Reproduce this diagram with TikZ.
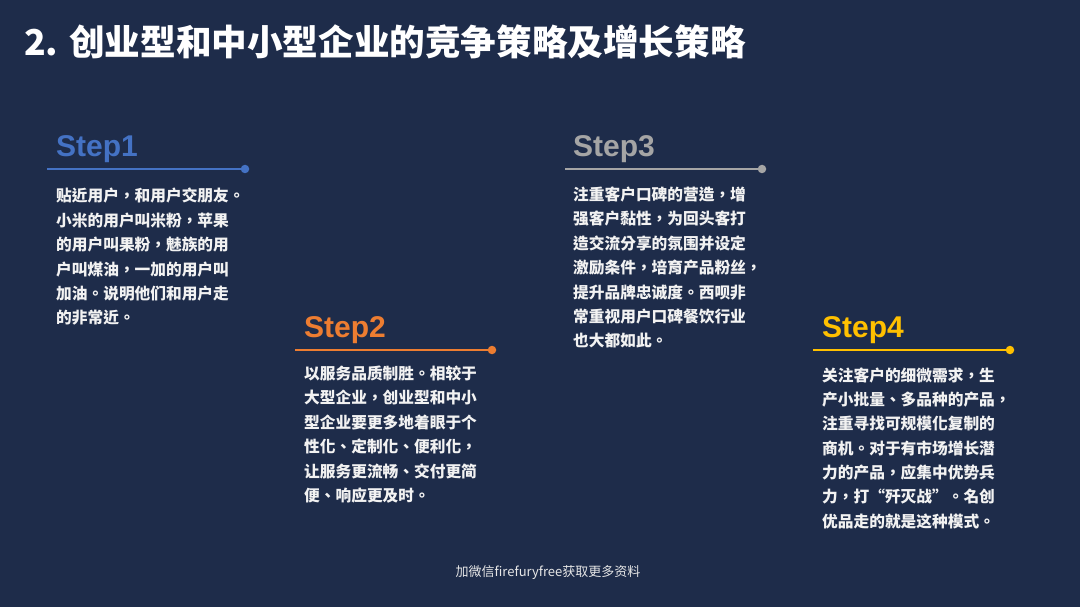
\documentclass[tikz,border=0pt]{standalone}
\usepackage{fontspec}
\setmainfont{Liberation Sans}
\newfontfamily\cjk{Noto Sans CJK SC}
\newfontfamily\cjkbody{Noto Sans CJK TC}
\newfontfamily\lat{Liberation Sans}
\definecolor{bgnavy}{RGB}{30,44,74}
\definecolor{sblue}{RGB}{68,114,196}
\definecolor{sorange}{RGB}{237,125,49}
\definecolor{sgray}{RGB}{165,165,165}
\definecolor{sgold}{RGB}{255,192,0}
\definecolor{bodytxt}{RGB}{242,242,242}
\tikzset{
  steplabel/.style={anchor=base west, inner sep=0pt, font=\lat\bfseries\fontsize{30}{30}\selectfont},
  stepline/.style={line width=2.6pt},
  stepdot/.style={circle, inner sep=0pt, minimum size=8.5pt},
  bodytext/.style={anchor=base west, inner sep=0pt, text=bodytxt},
}
\newcommand{\bodybox}[1]{\parbox[t]{230pt}{\cjkbody\bfseries\fontsize{15.7}{24.4}\selectfont #1}}
\begin{document}
\begin{tikzpicture}[x=1pt,y=-1pt]
\useasboundingbox (0,0) rectangle (1080,607);
\fill[bgnavy] (0,0) rectangle (1080,607);
% title
\node[anchor=base west, inner sep=0pt, text=white, font=\cjk\bfseries\fontsize{35.6}{35.6}\selectfont] (title) at (24,55.5) {2. 创业型和中小型企业的竞争策略及增长策略};
% Step 1
\node[steplabel, text=sblue] (s1) at (56,157) {Step1};
\coordinate (l1a) at (47,169);
\node[stepdot, fill=sblue] (d1) at (245,169) {};
\draw[stepline, sblue] (l1a) -- (d1.center);
\node[bodytext] (t1) at (56,202) {\bodybox{贴近用户，和用户交朋友。\\小米的用户叫米粉，苹果\\的用户叫果粉，魅族的用\\户叫煤油，一加的用户叫\\加油。说明他们和用户走\\的非常近。}};
% Step 2
\node[steplabel, text=sorange] (s2) at (304,337) {Step2};
\coordinate (l2a) at (295,350);
\node[stepdot, fill=sorange] (d2) at (492,350) {};
\draw[stepline, sorange] (l2a) -- (d2.center);
\node[bodytext] (t2) at (304,379.5) {\bodybox{以服务品质制胜。相较于\\大型企业，创业型和中小\\型企业要更多地着眼于个\\性化、定制化、便利化，\\让服务更流畅、交付更简\\便、响应更及时。}};
% Step 3
\node[steplabel, text=sgray] (s3) at (573,157) {Step3};
\coordinate (l3a) at (565,169);
\node[stepdot, fill=sgray] (d3) at (762,169) {};
\draw[stepline, sgray] (l3a) -- (d3.center);
\node[bodytext] (t3) at (573,200.5) {\bodybox{注重客户口碑的营造，增\\强客户黏性，为回头客打\\造交流分享的氛围并设定\\激励条件，培育产品粉丝，\\提升品牌忠诚度。西呗非\\常重视用户口碑餐饮行业\\也大都如此。}};
% Step 4
\node[steplabel, text=sgold] (s4) at (822,337) {Step4};
\coordinate (l4a) at (813,350);
\node[stepdot, fill=sgold] (d4) at (1010,350) {};
\draw[stepline, sgold] (l4a) -- (d4.center);
\node[bodytext] (t4) at (822,381) {\bodybox{关注客户的细微需求，生\\产小批量、多品种的产品，\\注重寻找可规模化复制的\\商机。对于有市场增长潜\\力的产品，应集中优势兵\\力，打“歼灭战”。名创\\优品走的就是这种模式。}};
% footer
\node[anchor=base, inner sep=0pt, text=bodytxt!90!gray, font=\cjk\fontsize{13}{13}\selectfont] (foot) at (548,576) {加微信firefuryfree获取更多资料};
\end{tikzpicture}
\end{document}
